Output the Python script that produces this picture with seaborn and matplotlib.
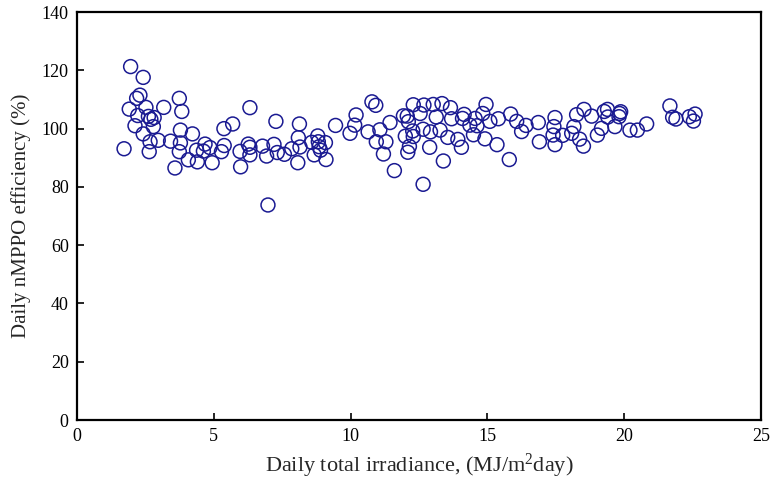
import matplotlib
matplotlib.use("Agg")
import matplotlib.pyplot as plt
import seaborn as sns
import pandas as pd

irradiance = [
    1.72, 1.91, 1.96, 2.12, 2.18, 2.22, 2.30, 2.42, 2.42, 2.52, 2.61, 2.64, 2.67, 2.70,
    2.79, 2.82, 2.97, 3.17, 3.42, 3.58, 3.74, 3.74, 3.78, 3.78, 3.83, 4.07, 4.22, 4.37,
    4.40, 4.62, 4.68, 4.86, 4.94, 5.28, 5.38, 5.37, 5.69, 5.96, 5.98, 6.26, 6.32, 6.32,
    6.32, 6.78, 6.93, 6.98, 7.20, 7.27, 7.32, 7.58, 7.85, 8.09, 8.13, 8.15, 8.07, 8.58,
    8.80, 8.82, 8.85, 8.67, 8.90, 9.08, 9.10, 9.45, 9.98, 10.15, 10.20, 10.64, 10.78,
    10.92, 11.07, 10.94, 11.29, 11.20, 11.44, 11.60, 11.93, 12.07, 12.11, 12.00, 12.27,
    12.15, 12.09, 12.29, 12.29, 12.54, 12.65, 12.68, 12.65, 12.92, 12.89, 13.02, 13.13,
    13.27, 13.34, 13.39, 13.55, 13.65, 13.69, 13.92, 14.05, 14.09, 14.15, 14.36, 14.49,
    14.55, 14.62, 14.83, 14.91, 14.95, 15.09, 15.35, 15.40, 15.80, 15.85, 16.07, 16.25,
    16.41, 16.86, 16.90, 17.40, 17.43, 17.47, 17.47, 17.75, 18.08, 18.16, 18.26, 18.37,
    18.51, 18.53, 18.81, 19.02, 19.17, 19.27, 19.39, 19.40, 19.66, 19.83, 19.87, 19.81,
    20.21, 20.48, 20.82, 21.67, 21.77, 21.89, 22.38, 22.59, 22.53,
]
efficiency = [
    93.1, 106.7, 121.3, 101.0, 110.4, 104.5, 111.5, 117.6, 98.2, 107.3, 104.2, 92.1, 95.5, 103.2,
    100.7, 103.8, 96.0, 107.3, 95.7, 86.5, 110.4, 92.1, 99.5, 95.1, 105.9, 89.3, 98.2, 92.6,
    88.6, 92.3, 94.7, 93.5, 88.3, 92.1, 94.2, 100.0, 101.6, 92.2, 86.9, 94.7, 107.2, 93.6,
    91.0, 94.0, 90.6, 73.8, 94.6, 102.5, 91.8, 91.2, 93.1, 96.9, 101.6, 93.7, 88.3, 95.3,
    97.5, 95.5, 93.8, 91.0, 92.6, 95.2, 89.4, 101.1, 98.4, 101.2, 104.7, 98.9, 109.2,
    108.0, 99.6, 95.5, 95.5, 91.3, 102.1, 85.6, 104.4, 104.3, 102.4, 97.4, 99.2,
    93.9, 91.9, 108.2, 97.3, 105.2, 99.8, 108.1, 80.9, 98.9, 93.6, 108.3, 104.0,
    99.5, 108.6, 88.9, 97.0, 107.2, 103.4, 96.3, 93.6, 103.5, 104.9, 101.2, 97.9,
    103.5, 101.0, 105.2, 96.5, 108.3, 102.5, 94.5, 103.4, 89.4, 105.0, 102.5, 99.0,
    101.1, 102.1, 95.5, 97.8, 100.7, 103.8, 94.5, 97.7, 98.4, 100.7, 104.8, 96.4,
    94.0, 106.6, 104.3, 97.8, 100.1, 105.9, 106.6, 104.0, 100.7, 105.2, 105.8, 104.1,
    99.5, 99.5, 101.6, 107.8, 103.9, 103.3, 104.1, 105.0, 102.6,
]

x_ticks = [0, 5, 10, 15, 20, 25]
y_ticks = [0, 20, 40, 60, 80, 100, 120, 140]

df = pd.DataFrame({"irr": irradiance, "eff": efficiency})

sns.set_theme(style="white")
plt.rcParams["font.family"] = ["Liberation Serif", "DejaVu Serif"]
plt.rcParams["mathtext.fontset"] = "custom"
plt.rcParams["mathtext.rm"] = "Liberation Serif"
plt.rcParams["mathtext.it"] = "Liberation Serif:italic"

fig = plt.figure(figsize=(7.73, 4.84), dpi=100)
ax = fig.add_axes([0.0996, 0.1322, 0.8849, 0.8428])

sns.scatterplot(data=df, x="irr", y="eff", ax=ax, s=100, facecolor="none",
                edgecolor="#1a1a92", linewidth=1.1, legend=False)

ax.set_xlim(0, 25)
ax.set_ylim(0, 140)
ax.set_xticks(x_ticks)
ax.set_yticks(y_ticks)
ax.tick_params(axis="both", direction="in", length=5, width=1.2, labelsize=13,
               colors="black", top=False, right=False, bottom=True, left=True, pad=6)
for sp in ax.spines.values():
    sp.set_color("black")
    sp.set_linewidth(1.6)
    sp.set_visible(True)

ax.set_xlabel(r"Daily total irradiance, (MJ/m$^{2}$day)", fontsize=16, labelpad=5)
ax.set_ylabel("Daily nMPPO efficiency (%)", fontsize=15, labelpad=8)

fig.savefig("out.png", dpi=100)
